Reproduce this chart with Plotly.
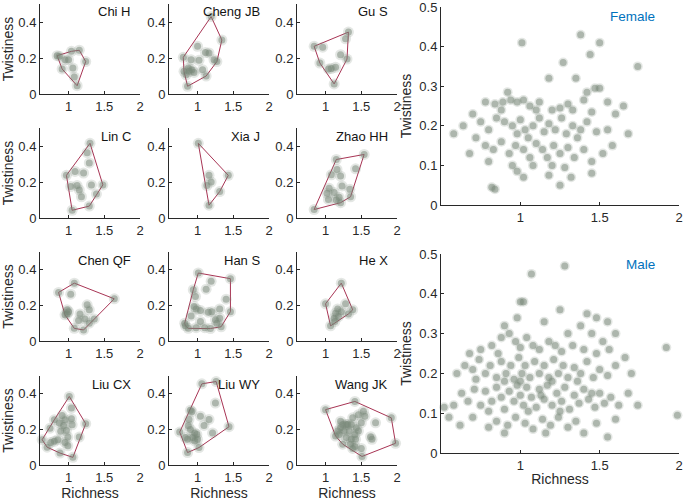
import plotly.graph_objects as go

W, H = 685, 502

# ---------------- data ----------------
names = ["Chi H", "Cheng JB", "Gu S", "Lin C", "Xia J", "Zhao HH",
         "Chen QF", "Han S", "He X", "Liu CX", "Liu WY", "Wang JK"]

chi_h = [(0.84,0.213),(1.04,0.237),(1.15,0.243),(1.24,0.18),(1.12,0.046),(0.91,0.139),
         (0.95,0.19),(1.0,0.19),(1.06,0.144),(1.08,0.094),(0.87,0.21)]
cheng_jb = [(1.19,0.43),(1.34,0.30),(1.27,0.18),(1.12,0.10),(0.86,0.043),(0.80,0.204),
            (0.81,0.126),(0.87,0.144),(0.92,0.135),(0.95,0.12),(0.91,0.19),(1.02,0.187),
            (1.0,0.265),(1.11,0.23),(1.16,0.228),(1.23,0.19),(1.07,0.135),(0.84,0.107),(0.88,0.126)]
gu_s = [(0.84,0.265),(0.96,0.26),(1.32,0.344),(1.28,0.307),(1.21,0.218),(1.30,0.194),
        (0.92,0.172),(1.04,0.139),(1.08,0.141),(1.14,0.148),(1.12,0.056)]
lin_c = [(1.30,0.415),(1.26,0.363),(1.29,0.306),(1.09,0.259),(1.21,0.25),(0.97,0.237),
         (1.03,0.175),(1.12,0.18),(1.15,0.156),(1.18,0.118),(1.32,0.184),(1.48,0.184),
         (1.39,0.133),(1.29,0.066),(1.05,0.043)]
xia_j = [(1.01,0.415),(1.43,0.237),(1.16,0.237),(1.19,0.20),(1.13,0.18),(1.31,0.147),(1.16,0.071)]
zhao_hh = [(0.84,0.047),(1.15,0.325),(1.54,0.353),(1.42,0.273),(1.16,0.27),(1.08,0.24),
           (1.21,0.233),(1.23,0.178),(1.05,0.165),(1.12,0.141),(1.02,0.137),(1.34,0.16),
           (1.35,0.118),(1.04,0.103),(1.15,0.10),(1.21,0.085),(1.19,0.115)]
chen_qf = [(0.86,0.273),(1.08,0.325),(1.64,0.237),(1.03,0.263),(0.98,0.175),(0.98,0.152),
           (1.0,0.165),(0.95,0.147),(1.16,0.152),(1.26,0.203),(1.29,0.175),(1.14,0.115),
           (1.23,0.124),(1.36,0.124),(1.29,0.10),(1.08,0.071),(1.21,0.062)]
han_s = [(1.01,0.382),(1.46,0.35),(1.19,0.335),(0.94,0.288),(1.12,0.291),(0.97,0.25),
         (1.40,0.235),(0.95,0.194),(0.98,0.18),(1.04,0.171),(1.15,0.162),(1.20,0.165),
         (1.31,0.18),(1.46,0.165),(0.91,0.141),(0.82,0.10),(0.87,0.071),(1.04,0.11),
         (0.98,0.075),(1.10,0.075),(1.18,0.07),(1.27,0.10),(1.25,0.12),(1.31,0.128),
         (1.33,0.08),(0.83,0.085)]
he_x = [(1.0,0.209),(1.22,0.325),(1.38,0.175),(1.07,0.085),(1.28,0.209),(1.17,0.18),
        (1.14,0.156),(1.22,0.165),(1.12,0.128),(1.18,0.137),(1.13,0.109),(1.32,0.152)]
liu_cx = [(1.01,0.385),(1.04,0.32),(0.63,0.142),(0.70,0.10),(1.06,0.043),(1.24,0.232),
          (1.15,0.157),(0.80,0.254),(0.91,0.278),(0.87,0.236),(0.95,0.254),(1.04,0.26),
          (0.93,0.222),(1.05,0.226),(0.74,0.207),(0.89,0.189),(0.99,0.157),(0.97,0.194),
          (0.80,0.133),(0.75,0.127),(0.85,0.142),(0.95,0.127),(0.99,0.108),(0.88,0.067)]
liu_wy = [(1.06,0.456),(1.26,0.469),(1.25,0.348),(1.44,0.215),(1.02,0.098),(0.86,0.07),
          (0.75,0.185),(0.83,0.154),(0.90,0.307),(0.92,0.30),(0.88,0.256),(0.87,0.22),
          (0.90,0.20),(1.04,0.274),(1.09,0.222),(1.16,0.256),(1.21,0.18),(0.96,0.18),
          (0.99,0.172),(0.93,0.154),(0.86,0.144),(1.00,0.144),(0.96,0.135)]
wang_jk = [(1.0,0.311),(1.41,0.357),(1.92,0.265),(1.98,0.122),(1.51,0.048),(1.24,0.117),
           (1.14,0.163),(1.21,0.246),(1.29,0.228),(1.38,0.265),(1.46,0.283),(1.53,0.302),
           (1.55,0.274),(1.70,0.237),(1.63,0.159),(1.65,0.144),(1.43,0.209),(1.46,0.191),
           (1.41,0.172),(1.33,0.191),(1.26,0.191),(1.21,0.209),(1.19,0.172),(1.29,0.154),
           (1.36,0.144),(1.35,0.117),(1.41,0.104),(1.50,0.093),(1.38,0.093),(1.31,0.228),
           (1.24,0.228),(1.36,0.228),(1.50,0.237),(1.17,0.191),(1.42,0.144)]

people = [chi_h, cheng_jb, gu_s, lin_c, xia_j, zhao_hh,
          chen_qf, han_s, he_x, liu_cx, liu_wy, wang_jk]

female = [(1.01,0.41),(1.38,0.43),(1.50,0.41),(1.74,0.35),(1.44,0.38),(1.27,0.36),(1.35,0.32),
          (1.47,0.295),(1.50,0.295),(1.42,0.285),(1.18,0.32),(0.92,0.285),
          (0.78,0.26),(0.84,0.255),(0.89,0.26),(0.94,0.265),(0.98,0.26),(1.02,0.265),(1.06,0.25),
          (1.12,0.26),(1.30,0.255),(1.40,0.265),(1.55,0.26),(1.65,0.25),(0.70,0.23),(0.88,0.24),
          (1.10,0.24),(1.20,0.24),(1.25,0.245),(1.33,0.24),(1.45,0.235),(1.60,0.23),
          (0.58,0.18),(0.64,0.2),(0.75,0.21),(0.80,0.19),(0.85,0.22),(0.90,0.21),(0.95,0.2),
          (0.98,0.18),(1.00,0.215),(1.03,0.19),(1.08,0.2),(1.12,0.22),(1.15,0.185),(1.18,0.205),
          (1.22,0.19),(1.26,0.22),(1.29,0.18),(1.33,0.2),(1.38,0.19),(1.42,0.21),(1.48,0.185),
          (1.55,0.19),(1.68,0.18),(0.72,0.17),(1.05,0.17),(1.36,0.17),
          (0.68,0.13),(0.78,0.15),(0.83,0.14),(0.88,0.16),(0.93,0.13),(0.97,0.15),(1.02,0.14),
          (1.06,0.12),(1.10,0.155),(1.14,0.14),(1.17,0.12),(1.21,0.15),(1.25,0.13),(1.30,0.145),
          (1.34,0.12),(1.40,0.14),(1.45,0.11),(1.52,0.13),(1.58,0.15),(0.80,0.11),(0.95,0.10),
          (1.08,0.10),(1.20,0.10),(1.28,0.095),
          (0.82,0.045),(0.84,0.04),(1.02,0.07),(1.18,0.075),(1.32,0.07),(1.45,0.08),(0.98,0.085),(1.25,0.05)]

male = [(1.07,0.45),(1.28,0.47),(1.0,0.38),(1.02,0.38),(1.25,0.36),(1.42,0.35),(1.48,0.34),
        (1.55,0.33),(1.38,0.32),(0.98,0.34),(0.9,0.32),(1.15,0.33),(1.6,0.3),(1.92,0.265),
        (1.45,0.30),(1.52,0.28),(1.66,0.24),(1.3,0.3),
        (0.75,0.26),(0.82,0.27),(0.88,0.29),(0.93,0.3),(0.97,0.28),(1.0,0.265),(1.04,0.29),
        (1.08,0.27),(1.12,0.26),(1.18,0.28),(1.22,0.27),(1.26,0.255),(1.33,0.27),(1.4,0.26),
        (1.48,0.25),(1.56,0.26),(0.68,0.25),(0.86,0.25),
        (0.6,0.2),(0.65,0.22),(0.7,0.21),(0.74,0.235),(0.78,0.2),(0.81,0.22),(0.85,0.19),
        (0.88,0.23),(0.91,0.2),(0.94,0.22),(0.96,0.185),(0.99,0.24),(1.01,0.2),(1.03,0.22),
        (1.06,0.19),(1.09,0.23),(1.12,0.2),(1.15,0.22),(1.18,0.19),(1.21,0.235),(1.24,0.2),
        (1.27,0.22),(1.3,0.19),(1.34,0.215),(1.38,0.2),(1.42,0.23),(1.46,0.19),(1.5,0.21),
        (1.55,0.195),(1.6,0.22),(1.7,0.2),(0.72,0.185),(0.9,0.18),(1.0,0.18),(1.2,0.18),(1.36,0.18),
        (0.58,0.12),(0.63,0.15),(0.67,0.13),(0.71,0.16),(0.75,0.12),(0.78,0.155),(0.82,0.13),
        (0.85,0.165),(0.88,0.14),(0.9,0.11),(0.93,0.155),(0.96,0.13),(0.98,0.17),(1.0,0.145),
        (1.02,0.12),(1.04,0.165),(1.07,0.14),(1.1,0.115),(1.12,0.16),(1.15,0.135),(1.17,0.17),
        (1.2,0.12),(1.23,0.15),(1.26,0.13),(1.28,0.165),(1.31,0.11),(1.34,0.145),(1.37,0.125),
        (1.4,0.16),(1.43,0.135),(1.47,0.115),(1.5,0.15),(1.53,0.125),(1.57,0.14),(1.62,0.12),
        (1.68,0.15),(1.74,0.12),(0.8,0.105),(1.05,0.105),(1.25,0.105),(1.45,0.15),(1.13,0.145),
        (0.52,0.115),(0.55,0.09),(0.62,0.07),(0.7,0.09),(0.8,0.065),(0.85,0.08),(0.92,0.07),
        (0.97,0.09),(1.03,0.075),(1.08,0.06),(1.14,0.085),(1.19,0.07),(1.24,0.09),(1.3,0.065),
        (1.35,0.08),(1.4,0.05),(1.48,0.075),(1.55,0.04),(1.6,0.085),(1.99,0.095),(1.16,0.05),(0.9,0.05)]

small_xticks = [1, 1.5, 2]
small_yticks = [0, 0.2, 0.4]
big_xticks = [1, 1.5, 2]
big_yticks = [0, 0.1, 0.2, 0.3, 0.4, 0.5]

# ---------------- style ----------------
FONT = "Liberation Sans, Arial, sans-serif"
AX = "rgb(40,40,40)"
DOT = "rgb(118,134,118)"
HULL = "rgb(168,52,84)"
BLUE = "rgb(0,114,189)"

def convex_hull(pts):
    p = sorted(set(pts))
    if len(p) < 3:
        return p
    def cross(o, a, b):
        return (a[0]-o[0])*(b[1]-o[1]) - (a[1]-o[1])*(b[0]-o[0])
    lower, upper = [], []
    for q in p:
        while len(lower) >= 2 and cross(lower[-2], lower[-1], q) <= 0:
            lower.pop()
        lower.append(q)
    for q in reversed(p):
        while len(upper) >= 2 and cross(upper[-2], upper[-1], q) <= 0:
            upper.pop()
        upper.append(q)
    return lower[:-1] + upper[:-1]

fig = go.Figure()

def dom_x(a, b):
    return [a / W, b / W]

def dom_y(a, b):
    return [1 - b / H, 1 - a / H]

col_px = [(40, 140), (169, 269), (297, 397)]
row_px = [(4, 94), (128, 218), (252, 341), (376, 465)]
big_x = (441, 679)
big_rows = [(7, 205), (254, 453)]

def add_axes(i, xd, yd, xr, yr, xt, yt, xlabel, ylabel):
    sx = "" if i == 1 else str(i)
    common = dict(showgrid=False, zeroline=False, showline=True, linecolor=AX, linewidth=1,
                  ticks="inside", ticklen=3, tickcolor=AX, automargin=False,
                  ticklabeloverflow="allow",
                  tickfont=dict(family=FONT, size=13, color=AX), fixedrange=True)
    xa = dict(domain=xd, range=xr, anchor="y" + sx, tickvals=xt,
              ticktext=[f"{v:g}" for v in xt], **common)
    ya = dict(domain=yd, range=yr, anchor="x" + sx, tickvals=yt,
              ticktext=[f"{v:g}" for v in yt], **common)
    if xlabel:
        xa["title"] = dict(text=xlabel, font=dict(family=FONT, size=14, color=AX), standoff=2)
    if ylabel:
        ya["title"] = dict(text=ylabel, font=dict(family=FONT, size=14, color=AX), standoff=4)
    fig.layout["xaxis" + sx] = xa
    fig.layout["yaxis" + sx] = ya
    return "x" + sx, "y" + sx

def add_dots(pts, xa, ya, core, halo):
    xs = [p[0] for p in pts]
    ys = [p[1] for p in pts]
    fig.add_trace(go.Scatter(x=xs, y=ys, xaxis=xa, yaxis=ya, mode="markers",
                             marker=dict(size=halo, color=DOT, opacity=0.2, line=dict(width=0)),
                             hoverinfo="skip", showlegend=False, cliponaxis=False))
    fig.add_trace(go.Scatter(x=xs, y=ys, xaxis=xa, yaxis=ya, mode="markers",
                             marker=dict(size=core, color=DOT, opacity=0.5, line=dict(width=0)),
                             hoverinfo="skip", showlegend=False, cliponaxis=False))

ann = []
idx = 1
for k, (nm, pts) in enumerate(zip(names, people)):
    r, c = divmod(k, 3)
    xd = dom_x(*col_px[c])
    yd = dom_y(*row_px[r])
    xa, ya = add_axes(idx, xd, yd, [0.6, 2], [0, 0.5], small_xticks, small_yticks,
                      "Richness" if r == 3 else None, "Twistiness" if c == 0 else None)
    hull = convex_hull(pts)
    hull = hull + hull[:1]
    fig.add_trace(go.Scatter(x=[p[0] for p in hull], y=[p[1] for p in hull], xaxis=xa, yaxis=ya,
                             mode="lines", line=dict(color=HULL, width=1),
                             hoverinfo="skip", showlegend=False, cliponaxis=False))
    add_dots(pts, xa, ya, 7, 11)
    ann.append(dict(text=nm, xref="paper", yref="paper",
                    x=(col_px[c][1] - 7) / W, y=1 - (row_px[r][0] + 8) / H,
                    xanchor="right", yanchor="middle", showarrow=False,
                    font=dict(family=FONT, size=13, color="rgb(20,20,20)")))
    idx += 1

for j, (lab, pts) in enumerate([("Female", female), ("Male", male)]):
    xd = dom_x(*big_x)
    yd = dom_y(*big_rows[j])
    xa, ya = add_axes(idx, xd, yd, [0.5, 2], [0, 0.5], big_xticks, big_yticks,
                      "Richness" if j == 1 else None, "Twistiness")
    add_dots(pts, xa, ya, 7, 10)
    ann.append(dict(text=lab, xref="paper", yref="paper",
                    x=(big_x[1] - 22) / W, y=1 - (big_rows[j][0] + 10) / H,
                    xanchor="right", yanchor="middle", showarrow=False,
                    font=dict(family=FONT, size=13.5, color=BLUE)))
    idx += 1

fig.update_layout(width=W, height=H, margin=dict(l=0, r=0, t=0, b=0),
                  paper_bgcolor="white", plot_bgcolor="white",
                  annotations=ann, showlegend=False)

fig.write_html("out.html", config={"displayModeBar": False},
               post_script="document.body.style.margin='0';document.body.style.overflow='hidden';")
